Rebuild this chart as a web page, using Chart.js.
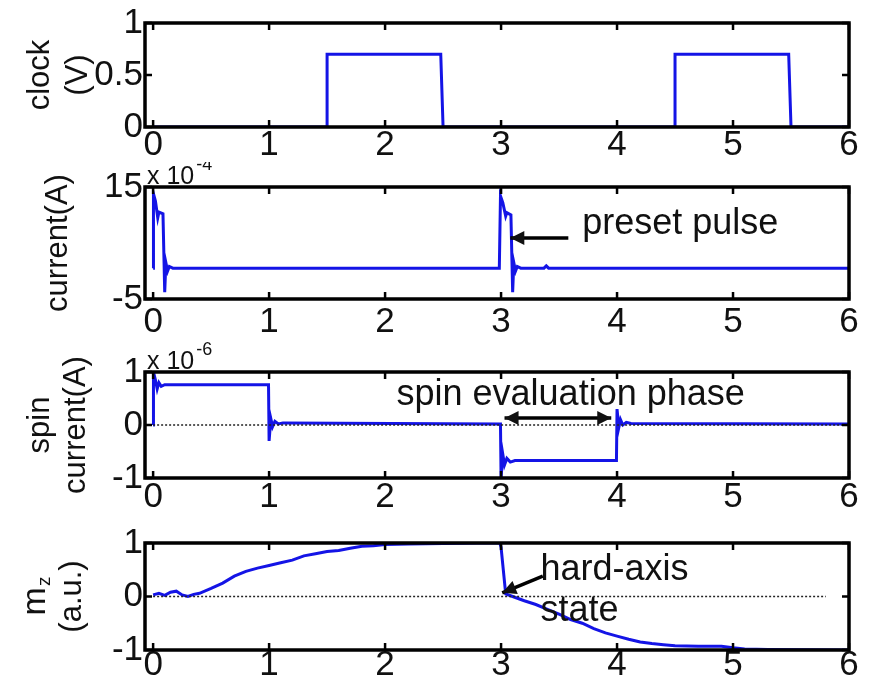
<!DOCTYPE html>
<html><head><meta charset="utf-8">
<script src="https://cdn.jsdelivr.net/npm/chart.js@4/dist/chart.umd.min.js"></script>
<style>
html,body{margin:0;padding:0;background:#fff;width:869px;height:684px;overflow:hidden}
canvas{position:absolute;left:0}
</style></head>
<body>
<canvas id="c1"></canvas><canvas id="c2"></canvas><canvas id="c3"></canvas><canvas id="c4"></canvas>
<script>
// ---- data (time axis 0..6) ----
const xTicks=[0,1,2,3,4,5,6];

const clockT=[0,1.5,1.5,2.48,2.5,4.5,4.5,5.48,5.5,6];
const clockV=[0,0,0.7,0.7,0,0,0.7,0.7,0,0];

const currentT=[0,0.003,0.02,0.04,0.05,0.085,0.1,0.11,0.125,0.14,0.17,2.985,2.995,3.015,3.04,3.05,3.085,3.1,3.11,3.125,3.14,3.17,3.37,3.39,3.41,6];
const currentV=[0.5,13.8,12.5,9.5,10.5,10.2,-3.8,1.5,0,0.8,0.5,0.5,13.4,12.2,9.8,10.4,10,-3.8,1.5,0,0.8,0.5,0.5,0.9,0.5,0.5];

const spinT=[0,0.003,0.02,0.035,0.05,0.07,0.1,0.995,1.0,1.015,1.03,1.05,1.08,1.12,2.995,3.0,3.015,3.03,3.05,3.08,3.12,3.995,4.0,4.015,4.03,4.05,4.08,4.12,6];
const spinV=[0,1.0,0.85,0.68,0.8,0.73,0.76,0.76,-0.3,0.12,-0.03,0.07,0.02,0.04,0.02,-1.0,-0.55,-0.75,-0.63,-0.7,-0.67,-0.67,0.3,-0.05,0.1,0,0.05,0.03,0.02];

const mzT=[0,0.05,0.1,0.15,0.2,0.25,0.3,0.35,0.4,0.5,0.6,0.7,0.8,0.9,1.0,1.1,1.2,1.3,1.4,1.5,1.6,1.7,1.8,1.9,2.0,2.2,2.5,2.8,2.99,3.0,3.04,3.1,3.2,3.3,3.4,3.5,3.6,3.7,3.8,3.9,4.0,4.1,4.2,4.3,4.4,4.5,4.7,4.9,5.0,5.1,5.3,6];
const mzV=[0.03,0.06,0.02,0.08,0.1,0.03,0.0,0.04,0.06,0.15,0.25,0.38,0.47,0.53,0.58,0.63,0.68,0.76,0.8,0.84,0.86,0.9,0.94,0.95,0.97,0.98,0.99,1.0,1.0,0.92,0.05,0.0,-0.08,-0.15,-0.24,-0.33,-0.43,-0.5,-0.6,-0.68,-0.74,-0.8,-0.85,-0.88,-0.9,-0.92,-0.93,-0.93,-0.96,-0.98,-0.99,-1.0];

const zeroT3=[0,6], zeroV3=[0,0];
const zeroT4=[0,5.8], zeroV4=[0,0];

const yTicks1=[0,0.5,1], yTicks2=[-5,15], yTicks3=[-1,0,1], yTicks4=[-1,0,1];

// annotations (data coordinates)
const presetText={text:'preset pulse',x:3.7,y:8.4,align:'left'};
const presetArrow={from:[3.58,5.9],to:[3.08,5.9]};
const spinText={text:'spin evaluation phase',x:3.6,y:0.57,align:'center'};
const spinArrow={from:[3.03,0.13],to:[3.95,0.13]};
const hardText1={text:'hard-axis',x:3.34,y:0.5,align:'left'};
const hardText2={text:'state',x:3.34,y:-0.27,align:'left'};
const hardArrow={from:[3.36,0.38],to:[3.01,0.07]};

// ---- drawing ----
const FONT='"Liberation Sans", Arial, sans-serif';
const BLUE='#1414e6';
const TICKSIZE=35, LABELSIZE=31, ANNSIZE=36;
const pts=(t,v)=>t.map((x,i)=>({x:x,y:v[i]}));

function arrowHead(ctx,x1,y1,x2,y2){
  const a=Math.atan2(y2-y1,x2-x1), L=14, W=7;
  ctx.beginPath();
  ctx.moveTo(x2,y2);
  ctx.lineTo(x2-L*Math.cos(a)+W*Math.sin(a), y2-L*Math.sin(a)-W*Math.cos(a));
  ctx.lineTo(x2-L*Math.cos(a)-W*Math.sin(a), y2-L*Math.sin(a)+W*Math.cos(a));
  ctx.closePath(); ctx.fill();
}

function makePlugin(cfg){
  return {
    id:'frame',
    afterDraw(chart){
      const ctx=chart.ctx, a=chart.chartArea, xs=chart.scales.x, ys=chart.scales.y;
      ctx.save();
      ctx.strokeStyle='#000'; ctx.fillStyle='#000';
      ctx.lineWidth=2.5;
      ctx.beginPath();
      xs.ticks.forEach(t=>{const p=xs.getPixelForValue(t.value);
        ctx.moveTo(p,a.bottom); ctx.lineTo(p,a.bottom-7);
        ctx.moveTo(p,a.top); ctx.lineTo(p,a.top+7);});
      ys.ticks.forEach(t=>{const p=ys.getPixelForValue(t.value);
        ctx.moveTo(a.left,p); ctx.lineTo(a.left+7,p);
        ctx.moveTo(a.right,p); ctx.lineTo(a.right-7,p);});
      ctx.stroke();
      ctx.lineWidth=3.5;
      ctx.strokeRect(a.left,a.top,a.right-a.left,a.bottom-a.top);
      const cy=(a.top+a.bottom)/2;
      cfg.ylabels.forEach(l=>{
        ctx.save(); ctx.translate(l.x,cy); ctx.rotate(-Math.PI/2);
        ctx.fillStyle='#111'; ctx.textBaseline='middle';
        if(l.sub){
          ctx.font='34px '+FONT; const w1=ctx.measureText(l.text).width;
          ctx.font='19px '+FONT; const w2=ctx.measureText(l.sub).width;
          const x0=-(w1+w2)/2;
          ctx.textAlign='left'; ctx.font='34px '+FONT; ctx.fillText(l.text,x0,0);
          ctx.font='19px '+FONT; ctx.fillText(l.sub,x0+w1+1,9);
        } else {
          ctx.textAlign='center'; ctx.font=LABELSIZE+'px '+FONT; ctx.fillText(l.text,0,0);
        }
        ctx.restore();
      });
      if(cfg.exp){
        ctx.fillStyle='#111'; ctx.textAlign='left'; ctx.textBaseline='alphabetic';
        ctx.font='25px '+FONT; ctx.fillText('x 10',a.left+2,a.top-3);
        const w=ctx.measureText('x 10').width;
        ctx.font='18px '+FONT; ctx.fillText(cfg.exp,a.left+4+w,a.top-17);
      }
      (cfg.texts||[]).forEach(t=>{
        ctx.fillStyle='#111'; ctx.textAlign=t.align; ctx.textBaseline='middle';
        ctx.font=ANNSIZE+'px '+FONT;
        ctx.fillText(t.text,xs.getPixelForValue(t.x),ys.getPixelForValue(t.y));
      });
      (cfg.arrows||[]).forEach(ar=>{
        const x1=xs.getPixelForValue(ar.from[0]), y1=ys.getPixelForValue(ar.from[1]);
        const x2=xs.getPixelForValue(ar.to[0]), y2=ys.getPixelForValue(ar.to[1]);
        ctx.lineWidth=3.5; ctx.beginPath(); ctx.moveTo(x1,y1); ctx.lineTo(x2,y2); ctx.stroke();
        arrowHead(ctx,x1,y1,x2,y2);
        if(ar.both) arrowHead(ctx,x2,y2,x1,y1);
      });
      ctx.restore();
    }
  };
}

function panel(id,cfg){
  const cv=document.getElementById(id);
  cv.width=869; cv.height=cfg.h; cv.style.top=cfg.top+'px';
  new Chart(cv,{
    type:'line',
    data:{datasets:cfg.datasets},
    options:{
      responsive:false, animation:false, devicePixelRatio:1,
      layout:{padding:{left:0,right:20,top:cfg.padTop,bottom:0}},
      plugins:{legend:{display:false},tooltip:{enabled:false}},
      elements:{point:{radius:0},line:{tension:0}},
      scales:{
        x:{type:'linear',min:-0.07,max:6,
          afterBuildTicks:s=>{s.ticks=xTicks.map(v=>({value:v}));},
          afterFit:s=>{s.height=cfg.xh;},
          grid:{display:false,drawTicks:false},border:{display:false},
          ticks:{font:{family:FONT,size:TICKSIZE},color:'#111',padding:cfg.xpad,maxRotation:0,autoSkip:false,
            callback:v=>String(v)}},
        y:{type:'linear',min:cfg.ymin,max:cfg.ymax,
          afterBuildTicks:s=>{s.ticks=cfg.yticks.map(v=>({value:v}));},
          afterFit:s=>{s.width=145;},
          grid:{display:false,drawTicks:false},border:{display:false},
          ticks:{font:{family:FONT,size:TICKSIZE},color:'#111',padding:2,autoSkip:false,
            callback:v=>String(v)}}
      }
    },
    plugins:[makePlugin(cfg)]
  });
}

const line=(t,v)=>({data:pts(t,v),borderColor:BLUE,borderWidth:3,pointRadius:0,fill:false});
const dotted=(t,v)=>({data:pts(t,v),borderColor:'#222',borderWidth:1.5,borderDash:[2,2],pointRadius:0,fill:false});

panel('c1',{top:0,h:162,padTop:21,xh:35,xpad:-3,ymin:0,ymax:1,yticks:yTicks1,
  datasets:[line(clockT,clockV)],
  ylabels:[{text:'clock',x:40},{text:'(V)',x:78}]});
panel('c2',{top:162,h:173,padTop:25,xh:36,xpad:2,ymin:-5,ymax:15,yticks:yTicks2,exp:'-4',
  datasets:[line(currentT,currentV)],
  ylabels:[{text:'current(A)',x:58}],
  texts:[presetText],arrows:[presetArrow]});
panel('c3',{top:335,h:175,padTop:37,xh:32,xpad:-2,ymin:-1,ymax:1,yticks:yTicks3,exp:'-6',
  datasets:[dotted(zeroT3,zeroV3),line(spinT,spinV)],
  ylabels:[{text:'spin',x:40},{text:'current(A)',x:76}],
  texts:[spinText],arrows:[Object.assign({both:true},spinArrow)]});
panel('c4',{top:510,h:174,padTop:33,xh:34,xpad:-6,ymin:-1,ymax:1,yticks:yTicks4,
  datasets:[dotted(zeroT4,zeroV4),line(mzT,mzV)],
  ylabels:[{text:'m',sub:'z',x:36},{text:'(a.u.)',x:72}],
  texts:[hardText1,hardText2],arrows:[hardArrow]});
</script>
</body></html>
